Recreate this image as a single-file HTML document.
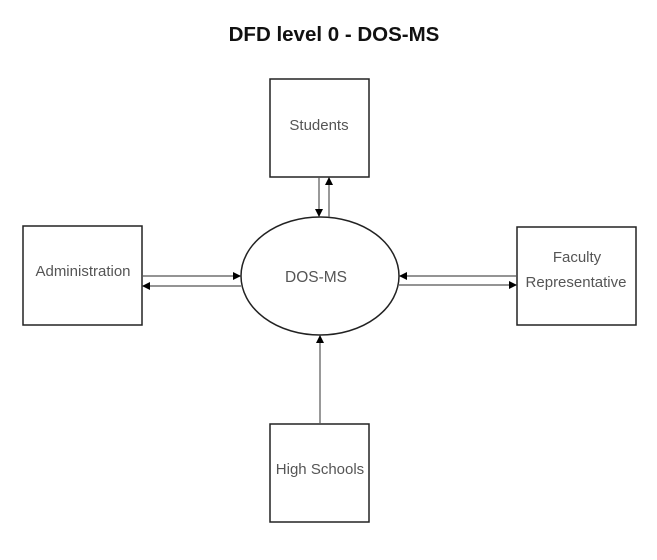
<!DOCTYPE html>
<html><head><style>body{margin:0;background:#fff}svg{display:block}</style></head><body>
<svg width="657" height="560" xmlns="http://www.w3.org/2000/svg">
<defs><marker id="a" markerWidth="8" markerHeight="8" refX="7" refY="4" orient="auto" markerUnits="userSpaceOnUse"><path d="M0,0 L8,4 L0,8 z" fill="#000"/></marker></defs>
<text x="334" y="41" text-anchor="middle" font-family="Liberation Sans, sans-serif" font-weight="bold" font-size="20.5" fill="#111">DFD level 0 - DOS-MS</text>
<g fill="#fff" stroke="#222" stroke-width="1.5">
<rect x="270" y="79" width="99" height="98"/>
<rect x="23" y="226" width="119" height="99"/>
<rect x="517" y="227" width="119" height="98"/>
<rect x="270" y="424" width="99" height="98"/>
<ellipse cx="320" cy="276" rx="79" ry="59"/>
</g>
<g stroke="#555" stroke-width="1.2" marker-end="url(#a)">
<line x1="319" y1="177" x2="319" y2="216"/>
<line x1="329" y1="217" x2="329" y2="178"/>
<line x1="142" y1="276" x2="240" y2="276"/>
<line x1="241" y1="286" x2="143" y2="286"/>
<line x1="517" y1="276" x2="400" y2="276"/>
<line x1="399" y1="285" x2="516" y2="285"/>
<line x1="320" y1="424" x2="320" y2="336"/>
</g>
<g font-family="Liberation Sans, sans-serif" font-size="15" fill="#555" text-anchor="middle">
<text x="319" y="130">Students</text>
<text x="83" y="276">Administration</text>
<text x="577" y="262">Faculty</text>
<text x="576" y="287">Representative</text>
<text x="320" y="474">High Schools</text>
<text x="316" y="282" font-size="15.5">DOS-MS</text>
</g>
</svg>
</body></html>
